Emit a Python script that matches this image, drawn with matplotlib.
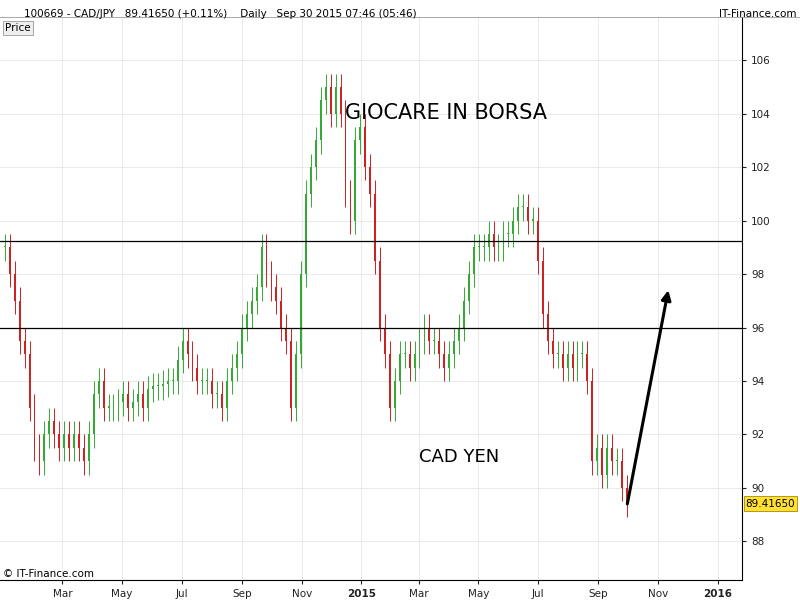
import matplotlib
matplotlib.use("Agg")
import matplotlib.pyplot as plt
import matplotlib.dates as mdates
import numpy as np
import pandas as pd

closes = [99,98,97,95.5,95,93,91.5,91,92,92.5,92,91.5,92,91.5,92,91.5,91,92,93.5,94,93,93,93,93.2,93.5,93,93.2,93.5,93,93.7,
          93.8,93.8,93.9,94,94,94.8,95.5,95,94.5,94,94,94,93.5,93.5,93,94,94.5,95,96,96.5,97,97.5,99,98,97.5,97,96,95.5,93,95,
          98,101,102,103,104.5,105,104,105,104,101,100,103,103.5,102,101,98.5,96,95,93,94,95,95,94.5,95,95.5,96,95.5,95.5,95,94.5,
          95,95.5,96,97,98,99,99,99,99.5,99,99,99.5,99.5,100,100.5,100.5,100,100,98.5,96.5,95.5,95,95,94.5,95,94.5,95,95,94,91,
          91.5,90.5,91.5,91,91,90,89.4165]
start, end = pd.Timestamp("2014-01-01"), pd.Timestamp("2015-09-30")
dates = pd.to_datetime(np.linspace(start.value, end.value, len(closes)))
levels = [99.25, 96.0]
last_price = 89.4165
arrow_start = ("2015-09-30", 89.3)
arrow_end = ("2015-11-12", 97.5)

fig = plt.figure(figsize=(8, 6), dpi=100)
ax = fig.add_axes([0.0, 0.033, 0.9275, 0.938])
x = mdates.date2num(dates)
opens = [closes[0]] + closes[:-1]
for xi, o, c in zip(x, opens, closes):
    col = "#33aa33" if c >= o else "#cc2222"
    lo, hi = min(o, c), max(o, c)
    ax.vlines(xi, lo - 0.5, hi + 0.5, color=col, lw=0.7)
    ax.bar(xi, max(hi - lo, 0.05), bottom=lo, width=1.8, color=col, lw=0)
for l in levels:
    ax.axhline(l, color="black", lw=0.9)
ax.annotate("", xy=(mdates.datestr2num(arrow_end[0]), arrow_end[1]),
            xytext=(mdates.datestr2num(arrow_start[0]), arrow_start[1]),
            arrowprops=dict(arrowstyle="-|>", lw=2.2, color="black", mutation_scale=14))
ax.set_xlim(mdates.datestr2num("2013-12-27"), mdates.datestr2num("2016-01-26"))
ax.set_ylim(86.55, 107.6)
ax.yaxis.tick_right()
ax.set_yticks(range(88, 107, 2))
ax.tick_params(axis="both", labelsize=7.5, length=3, colors="#222222")
ax.set_xticks([mdates.datestr2num(d) for d in ["2014-03-01","2014-05-01","2014-07-01","2014-09-01","2014-11-01",
                                               "2015-01-01","2015-03-01","2015-05-01","2015-07-01","2015-09-01",
                                               "2015-11-01","2016-01-01"]])
def fmt(v, pos):
    d = mdates.num2date(v)
    return str(d.year) if d.month == 1 else d.strftime("%b")
ax.xaxis.set_major_formatter(plt.FuncFormatter(fmt))
for lab in ax.get_xticklabels():
    if lab.get_text().isdigit():
        lab.set_fontweight("bold")
ax.grid(True, color="#e6e6e6", lw=0.6)
ax.set_axisbelow(True)
for s in ["top", "left"]:
    ax.spines[s].set_visible(False)
ax.text(0.465, 0.82, "GIOCARE IN BORSA", transform=ax.transAxes, fontsize=15)
ax.text(0.565, 0.21, "CAD YEN", transform=ax.transAxes, fontsize=13)
ax.text(1.005, (last_price - 86.55) / (107.6 - 86.55), f"{last_price:.5f}",
        transform=ax.transAxes, fontsize=7.5, va="center",
        bbox=dict(boxstyle="square,pad=0.2", fc="#ffe033", ec="#aa8800", lw=0.6))
fig.text(0.004, 0.038, "© IT-Finance.com", fontsize=7.5)
fig.text(0.03, 0.985, "100669 - CAD/JPY   89.41650 (+0.11%)    Daily   Sep 30 2015 07:46 (05:46)",
         fontsize=7.5, va="top")
fig.text(0.995, 0.985, "IT-Finance.com", fontsize=7.5, va="top", ha="right")
fig.text(0.006, 0.953, "Price", fontsize=7.5, va="center",
         bbox=dict(boxstyle="square,pad=0.2", fc="#eeeeee", ec="#999999", lw=0.6))
fig.add_artist(plt.Line2D([0, 1], [0.971, 0.971], color="#999999", lw=0.6))
fig.savefig("out.png", dpi=100)
